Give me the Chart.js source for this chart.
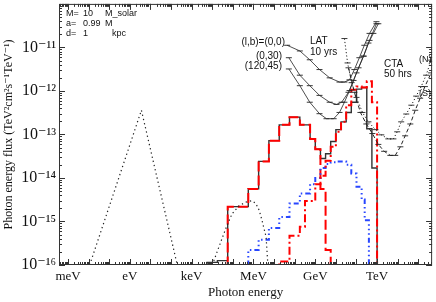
<!DOCTYPE html>
<html><head><meta charset="utf-8">
<script src="https://cdn.jsdelivr.net/npm/chart.js@4.4.0/dist/chart.umd.min.js"></script>
<style>html,body{margin:0;padding:0;background:#fff;}</style>
</head><body>
<canvas id="c" width="436" height="302" style="width:436px;height:302px;display:block"></canvas>
<script>
// ---- axis ticks ----
const xTickValues = [1e-3, 1, 1e3, 1e6, 1e9, 1e12];
const xTickLabels = ['meV', 'eV', 'keV', 'MeV', 'GeV', 'TeV'];
const yTickValues = [1e-16, 1e-15, 1e-14, 1e-13, 1e-12, 1e-11];
const yTickLabels = ['10⁻¹⁶', '10⁻¹⁵', '10⁻¹⁴', '10⁻¹³', '10⁻¹²', '10⁻¹¹'];

// ---- total spectrum (black histogram) ----
const totalEdges = [5.6e3,1.78e4,5.6e4,1.78e5,5.6e5,1.78e6,5.6e6,1.78e7,5.6e7,1.78e8,5.6e8,1e9,1.78e9,3.16e9,5.6e9,1e10,1.78e10,3.16e10,5.6e10,1e11,1.78e11,3.16e11,5.6e11,1e12];
const totalFlux = [1.15e-16,1.26e-16,2.19e-15,2.19e-15,5.6e-15,2.4e-14,7.2e-14,1.66e-13,2.5e-13,1.66e-13,7.9e-14,4.6e-14,2.8e-14,3.6e-14,6.9e-14,1.29e-13,1.95e-13,3.2e-13,5.5e-13,1.1e-12,1.2e-12,1.35e-13,1.7e-14];

// ---- red dashed component ----
const redDashEdges = [5.6e4,1.78e5,5.6e5,1.78e6,5.6e6,1.78e7,5.6e7,1.78e8,5.6e8,1e9,1.78e9,3.16e9,5.6e9];
const redDashFlux = [2.19e-15,2.19e-15,5.6e-15,2.4e-14,7.2e-14,1.66e-13,2.5e-13,1.66e-13,7.9e-14,4.6e-14,5.6e-15,2.2e-16];

// ---- red dash-dot component ----
const redDotEdges = [1.78e7,5.6e7,1.78e8,3.16e8,1e9,1.78e9,3.16e9,5.6e9,1e10,1.78e10,3.16e10,5.6e10,1e11,1.78e11,3.16e11,5.6e11,1e12];
const redDotFlux = [1.2e-16,4.7e-16,7.6e-16,2.95e-15,7.2e-15,1.12e-14,2.5e-14,5.2e-14,1.15e-13,1.95e-13,4.7e-13,1.07e-12,1.26e-12,1.2e-12,1.66e-12,5.5e-13];

// ---- blue dash-dot-dot component ----
const blueEdges = [5.6e5,1.78e6,5.6e6,1.78e7,5.6e7,1.78e8,5.6e8,1e9,1.78e9,3.16e9,5.6e9,1e10,1.78e10,3.16e10,5.6e10,1e11,1.78e11,2.5e11,4e11];
const blueFlux = [2.2e-16,3.8e-16,7.1e-16,1.26e-15,2.6e-15,4.4e-15,7.2e-15,1.0e-14,1.7e-14,2.1e-14,2.3e-14,2.4e-14,2.4e-14,2.0e-14,1.26e-14,6.3e-15,3.2e-15,1.07e-15];

// ---- dotted curves ----
const thermalE = [1.12e-2, 3.63, 200];
const thermalF = [1e-16, 3.6e-13, 1e-16];
const bumpE = [1e4,2.1e4,4.7e4,9.1e4,2.0e5,4.4e5,8.5e5,1.3e6,1.9e6,2.6e6,4.1e6,5.0e6];
const bumpF = [1e-16,2.6e-16,7.2e-16,1.5e-15,2.3e-15,2.8e-15,3.0e-15,2.6e-15,1.8e-15,1.05e-15,4.4e-16,1e-16];

// ---- LAT 10 yr sensitivities ----
const lat00E = [4.3e7,1.78e8,5.4e8,1.6e9,5.0e9,1.5e10,2.6e10,4.6e10,7.9e10,1.38e11,2.4e11,4.3e11,9.3e11];
const lat00F = [1.12e-11,8.3e-12,5.2e-12,3.1e-12,2.0e-12,1.6e-12,1.6e-12,1.8e-12,3.1e-12,5.8e-12,1.12e-11,2.1e-11,3.9e-11];
const lat030E = [5.2e7,1.78e8,5.4e8,1.6e9,5.0e9,1.07e10,1.9e10,4.1e10,7.2e10,1.26e11,2.2e11,3.8e11,6.6e11,1.15e12];
const lat030F = [5.8e-12,2.3e-12,1.32e-12,7.9e-13,5.5e-13,4.9e-13,5.5e-13,9.3e-13,1.74e-12,3.4e-12,6.3e-12,1.26e-11,2.1e-11,3.5e-11];
const lat12045E = [5.2e7,1.78e8,5.4e8,1.6e9,3.5e9,7.8e9,1.5e10,2.6e10,4.6e10,1e11,2.2e11,4.3e11,9.3e11];
const lat12045F = [3.2e-12,1.32e-12,5.5e-13,3.0e-13,2.3e-13,2.3e-13,3.2e-13,5.5e-13,1.02e-12,2.6e-12,6.3e-12,1.45e-11,3.5e-11];

// ---- CTA 50 hr sensitivities ----
const ctaNE = [2.6e10,3.7e10,5.8e10,1e11,1.95e11,3.8e11,8.3e11,1.6e12,3.5e12,6.2e12,9.5e12,1.48e13,2.6e13,4.6e13,7.9e13,1.38e14,2.4e14,4.2e14];
const ctaNF = [1.6e-11,4.4e-12,1.55e-12,7.1e-13,3.2e-13,1.95e-13,1.29e-13,9.8e-14,7.9e-14,7.9e-14,1.15e-13,1.95e-13,2.95e-13,4.7e-13,7.6e-13,1.26e-12,2.3e-12,5.1e-12];
const ctaSE = [4.1e10,7.9e10,1.55e11,3.0e11,5.9e11,1.15e12,2.2e12,4.4e12,7.6e12,1.35e13,2.3e13,4.1e13,7.1e13,1.23e14,2.1e14,4.2e14];
const ctaSF = [3.4e-12,9.3e-13,3.2e-13,1.74e-13,1.05e-13,5.9e-14,4.1e-14,3.3e-14,3.3e-14,5.2e-14,9.3e-14,1.74e-13,3.6e-13,6.8e-13,1.26e-12,2.6e-12];

const FLOOR = 1e-17;
function steps(edges, vals) {
  const p = [{x: edges[0], y: FLOOR}];
  for (let i = 0; i < vals.length; i++) p.push({x: edges[i], y: vals[i]});
  p.push({x: edges[edges.length - 1], y: vals[vals.length - 1]});
  p.push({x: edges[edges.length - 1], y: FLOOR});
  return p;
}
function pts(xs, ys) { return xs.map((v, i) => ({x: v, y: ys[i]})); }

const BLACK = '#222';
const RED = 'rgb(255,0,0)';
const BLUE = 'rgb(40,70,255)';
const SERIF = '"Liberation Serif", "DejaVu Serif", serif';
const SANS = '"Liberation Sans", Arial, sans-serif';

const capPts = {pointStyle: 'line', pointRadius: 3, pointBorderWidth: 0.9, pointBorderColor: BLACK, pointHoverRadius: 3};

const datasets = [
  Object.assign({label: 'LAT (0,0)', data: pts(lat00E, lat00F), borderColor: BLACK, borderWidth: 0.8, order: 1}, capPts),
  Object.assign({label: 'LAT (0,30)', data: pts(lat030E, lat030F), borderColor: BLACK, borderWidth: 0.8, order: 1}, capPts),
  Object.assign({label: 'LAT (120,45)', data: pts(lat12045E, lat12045F), borderColor: BLACK, borderWidth: 0.8, order: 1}, capPts),
  Object.assign({label: 'CTA N', data: pts(ctaNE, ctaNF), borderColor: BLACK, borderWidth: 1, borderDash: [1.2, 2.2], order: 1}, capPts),
  Object.assign({label: 'CTA S', data: pts(ctaSE, ctaSF), borderColor: BLACK, borderWidth: 1, borderDash: [4, 2.5], order: 1}, capPts),
  {label: 'thermal', data: pts(thermalE, thermalF), borderColor: BLACK, borderWidth: 1.2, borderDash: [1.3, 3], pointRadius: 0, order: 2},
  {label: 'bump', data: pts(bumpE, bumpF), borderColor: BLACK, borderWidth: 1.2, borderDash: [1.3, 3], pointRadius: 0, order: 2},
  {label: 'red dash-dot', data: steps(redDotEdges, redDotFlux), stepped: 'before', borderColor: RED, borderWidth: 2, borderDash: [8, 3, 2, 3], pointRadius: 0, order: 3},
  {label: 'blue', data: steps(blueEdges, blueFlux), stepped: 'before', borderColor: BLUE, borderWidth: 2, borderDash: [5, 3, 1.5, 3, 1.5, 3, 1.5, 3], pointRadius: 0, order: 4},
  {label: 'red dashed', data: steps(redDashEdges, redDashFlux), stepped: 'before', borderColor: RED, borderWidth: 2, borderDash: [10, 4], pointRadius: 0, order: 5},
  {label: 'total', data: steps(totalEdges, totalFlux), stepped: 'before', borderColor: '#333', borderWidth: 1.4, pointRadius: 0, order: 6}
];

const notes = [
  {t: 'M=', x: 66, y: 14, f: 9, a: 'left'}, {t: '10', x: 83, y: 14, f: 9, a: 'left'}, {t: 'M_solar', x: 105, y: 14, f: 9, a: 'left'},
  {t: 'a=', x: 66, y: 24, f: 9, a: 'left'}, {t: '0.99', x: 83, y: 24, f: 9, a: 'left'}, {t: 'M', x: 105, y: 24, f: 9, a: 'left'},
  {t: 'd=', x: 66, y: 34, f: 9, a: 'left'}, {t: '1', x: 83, y: 34, f: 9, a: 'left'}, {t: 'kpc', x: 112, y: 34, f: 9, a: 'left'},
  {t: '(l,b)=(0,0)', x: 285, y: 42, f: 10, a: 'right'},
  {t: '(0,30)', x: 282, y: 56, f: 10, a: 'right'},
  {t: '(120,45)', x: 282, y: 66, f: 10, a: 'right'},
  {t: 'LAT', x: 310, y: 41, f: 10, a: 'left'},
  {t: '10 yrs', x: 310, y: 52, f: 10, a: 'left'},
  {t: 'CTA', x: 384, y: 64, f: 10, a: 'left'},
  {t: '50 hrs', x: 384, y: 74, f: 10, a: 'left'},
  {t: '(N)', x: 419, y: 60, f: 9, a: 'left'},
  {t: '(S)', x: 419, y: 94, f: 9, a: 'left'}
];

const decor = {
  id: 'decor',
  afterDatasetsDraw(chart) {
    const {ctx, chartArea: a, scales: {x, y}} = chart;
    ctx.save();
    ctx.strokeStyle = '#333';
    ctx.lineWidth = 1;
    ctx.strokeRect(a.left + 0.5, a.top + 0.5, a.right - a.left - 1, a.bottom - a.top - 1);
    ctx.beginPath();
    for (let d = -4; d <= 15; d++) {
      for (let k = 1; k <= 9; k++) {
        const v = k * Math.pow(10, d);
        if (v < x.min || v > x.max) continue;
        const px = Math.round(x.getPixelForValue(v)) + 0.5;
        const L = k === 1 ? 6 : 3;
        ctx.moveTo(px, a.bottom); ctx.lineTo(px, a.bottom - L);
        ctx.moveTo(px, a.top); ctx.lineTo(px, a.top + L);
      }
    }
    for (let d = -17; d <= -9; d++) {
      for (let k = 1; k <= 9; k++) {
        const v = k * Math.pow(10, d);
        if (v < y.min * 0.999 || v > y.max * 1.001) continue;
        const py = Math.round(y.getPixelForValue(v)) + 0.5;
        const L = k === 1 ? 6 : 3;
        ctx.moveTo(a.left, py); ctx.lineTo(a.left + L, py);
        ctx.moveTo(a.right, py); ctx.lineTo(a.right - L, py);
      }
    }
    ctx.stroke();
    ctx.fillStyle = '#111';
    ctx.textBaseline = 'middle';
    for (const n of notes) {
      ctx.font = n.f + 'px ' + SANS;
      ctx.textAlign = n.a;
      ctx.fillText(n.t, n.x, n.y);
    }
    ctx.restore();
  }
};

new Chart(document.getElementById('c'), {
  type: 'line',
  data: {datasets},
  plugins: [decor],
  options: {
    responsive: false,
    animation: false,
    devicePixelRatio: 1,
    layout: {padding: {top: 1, right: 2, left: 0, bottom: 0}},
    plugins: {legend: {display: false}, tooltip: {enabled: false}},
    elements: {line: {tension: 0, fill: false}},
    scales: {
      x: {
        type: 'logarithmic',
        min: 3.63e-4, max: 4.68e14,
        grid: {display: false, drawTicks: false},
        border: {display: false},
        afterBuildTicks: s => { s.ticks = xTickValues.map(v => ({value: v})); },
        afterFit: s => { s.height = 37; s.paddingLeft = 0; s.paddingRight = 0; },
        ticks: {
          autoSkip: false, maxRotation: 0, padding: 4, color: '#111',
          font: {family: SERIF, size: 13},
          callback: (v, i) => xTickLabels[i]
        },
        title: {display: true, text: 'Photon energy', color: '#111', font: {family: SERIF, size: 13}, padding: {top: 0, bottom: 2}}
      },
      y: {
        type: 'logarithmic',
        min: 1e-16, max: 1e-10,
        grid: {display: false, drawTicks: false},
        border: {display: false},
        afterBuildTicks: s => { s.ticks = yTickValues.map(v => ({value: v})); },
        afterFit: s => { s.width = 59; s.paddingTop = 0; s.paddingBottom = 0; },
        ticks: {
          autoSkip: false, padding: 3, color: '#111',
          font: {family: SERIF, size: 16},
          callback: (v, i) => yTickLabels[i]
        },
        title: {display: true, text: 'Photon energy flux (TeV²cm²s⁻¹TeV⁻¹)', color: '#111', font: {family: SERIF, size: 12}, padding: {top: 2, bottom: 0}}
      }
    }
  }
});
</script>
</body></html>
